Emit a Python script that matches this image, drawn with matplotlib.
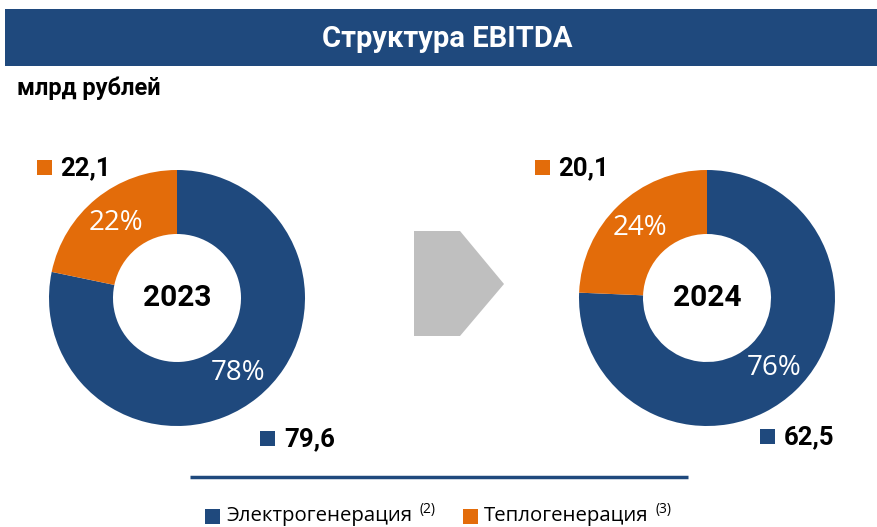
import matplotlib.pyplot as plt
from matplotlib.patches import Rectangle, Polygon

# data
years = ['2023', '2024']
elektro = [79.6, 62.5]
teplo = [22.1, 20.1]
elektro_lbl = ['79,6', '62,5']
teplo_lbl = ['22,1', '20,1']
series = ['Электрогенерация', 'Теплогенерация']
notes = ['(2)', '(3)']

blue = '#1F497D'
orange = '#E36C0A'
W, H = 877, 527

fig = plt.figure(figsize=(W / 100, H / 100), dpi=100)

# overlay axes in pixel coords (y down)
bg = fig.add_axes([0, 0, 1, 1])
bg.set_xlim(0, W)
bg.set_ylim(H, 0)
bg.axis('off')

# title band
bg.add_patch(Rectangle((5, 9), W - 5, 57, color=blue, lw=0))
bg.text(447, 39, 'Структура EBITDA', color='white', fontsize=21, fontweight='bold',
        family='Roboto', ha='center', va='center')
bg.text(17, 88, 'млрд рублей', fontsize=17, fontweight='bold', family='Roboto',
        ha='left', va='center')

# arrow
bg.add_patch(Polygon([(414, 231), (460, 231), (504, 284), (460, 336), (414, 336)],
                     closed=True, color='#BFBFBF', lw=0))

# donuts
centers = [177, 707]
for i in range(2):
    cx, cy, r = centers[i], 298, 128
    ax = fig.add_axes([(cx - r) / W, (H - cy - r) / H, 2 * r / W, 2 * r / H])
    wedges, texts, autotexts = ax.pie(
        [elektro[i], teplo[i]], colors=[blue, orange], startangle=90,
        counterclock=False, radius=1, autopct='%1.0f%%', pctdistance=0.76,
        wedgeprops=dict(width=0.5, edgecolor='none'),
        textprops=dict(color='white', fontsize=20, family='Open Sans'))
    ax.set_xlim(-1, 1)
    ax.set_ylim(-1, 1)
    ax.text(0, 0, years[i], ha='center', va='center', fontsize=21.5,
            fontweight='bold', family='Roboto')

# value labels
pos_t = [(37, 168), (535, 168)]
pos_e = [(260, 439), (760, 437)]
for i in range(2):
    x, y = pos_t[i]
    bg.add_patch(Rectangle((x, y - 8), 15, 15, color=orange, lw=0))
    bg.text(x + 23, y, teplo_lbl[i], fontsize=18.5, fontweight='bold', family='Roboto',
            ha='left', va='center')
    x, y = pos_e[i]
    bg.add_patch(Rectangle((x, y - 8), 15, 15, color=blue, lw=0))
    bg.text(x + 24, y, elektro_lbl[i], fontsize=18.5, fontweight='bold', family='Roboto',
            ha='left', va='center')

# separator line
bg.plot([190, 688], [477, 477], color=blue, lw=2.5, solid_capstyle='butt')

# legend
leg_x = [205, 463]
note_x = [419, 656]
cols = [blue, orange]
for i in range(2):
    bg.add_patch(Rectangle((leg_x[i], 509), 15, 15, color=cols[i], lw=0))
    bg.text(leg_x[i] + 21, 516, series[i], fontsize=14.7, family='Open Sans',
            ha='left', va='center')
    bg.text(note_x[i], 510, notes[i], fontsize=10, family='Open Sans',
            ha='left', va='center')

fig.savefig('out.png', dpi=100)
